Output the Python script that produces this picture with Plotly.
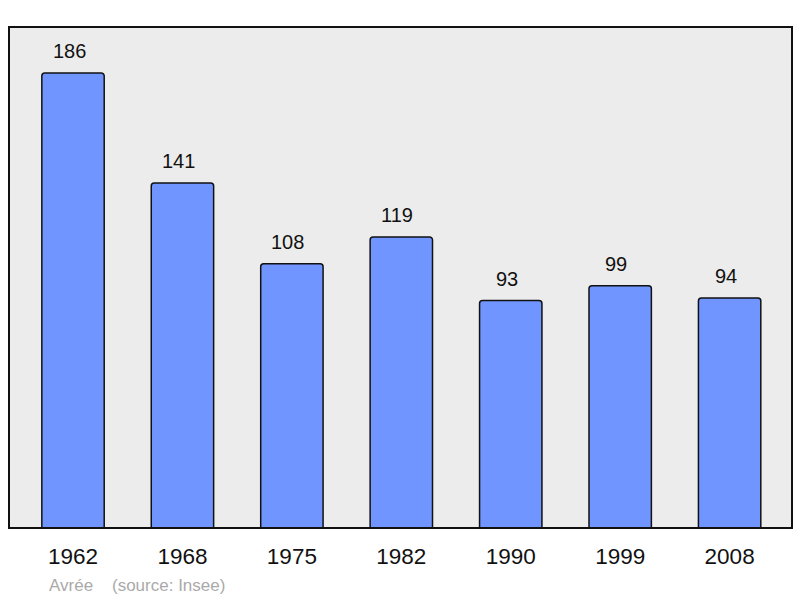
import plotly.graph_objects as go

years = ["1962", "1968", "1975", "1982", "1990", "1999", "2008"]
population = [186, 141, 108, 119, 93, 99, 94]
footer_text = "Avrée\u00a0\u00a0\u00a0\u00a0(source: Insee)"

FONT = "Liberation Sans, Arial, sans-serif"

fig = go.Figure()
fig.add_trace(go.Bar(
    x=years, y=population,
    width=0.57,
    marker=dict(color="#7095ff", line=dict(color="#111111", width=1.5), cornerradius=3),
    hoverinfo="skip",
))
for i, v in enumerate(population):
    fig.add_annotation(x=i, y=v, text=str(v), showarrow=False, yanchor="bottom",
                       yshift=9, xshift=-4, font=dict(family=FONT, size=20, color="#111111"))

fig.add_annotation(xref="paper", yref="paper", x=(47 - 9) / 783, y=-(585 - 528) / 501,
                   xanchor="left", yanchor="middle", showarrow=False, text=footer_text,
                   font=dict(family=FONT, size=17, color="#aaaaaa"))

fig.add_shape(type="rect", xref="paper", yref="paper", x0=0, y0=0, x1=1, y1=1,
              line=dict(color="#111111", width=2), layer="above")

fig.update_layout(
    width=800, height=598,
    margin=dict(l=9, r=8, t=27, b=70),
    paper_bgcolor="white", plot_bgcolor="#ececec",
    showlegend=False,
    xaxis=dict(type="category", range=[-0.585, 6.57], showgrid=False, ticks="", ticklen=0,
               tickfont=dict(family=FONT, size=22.5, color="#111111"),
               ticklabelstandoff=12, showline=False, zeroline=False),
    yaxis=dict(range=[0, 204.8], showgrid=False, showticklabels=False, zeroline=False,
               showline=False, ticks=""),
)
fig.write_html("out.html", config={"displayModeBar": False},
               post_script="document.body.style.margin='0';")
